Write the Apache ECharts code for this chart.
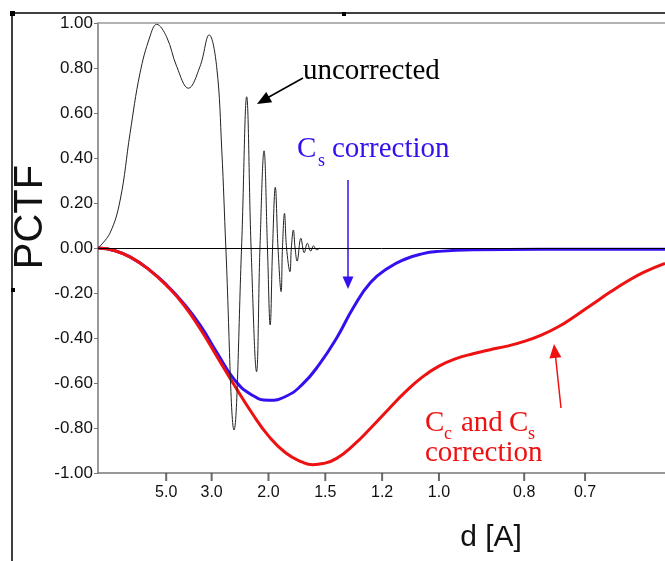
<!DOCTYPE html>
<html>
<head>
<meta charset="utf-8">
<script src="https://cdn.jsdelivr.net/npm/echarts@6/dist/echarts.min.js"></script>
<style>
  html, body { margin: 0; padding: 0; background: #fff; }
  #chart { width: 665px; height: 561px; }
</style>
</head>
<body>
<div id="chart"></div>
<script>
// x is spatial frequency 1/d, tick labels are shown as d
const dTicks = [5.0, 3.0, 2.0, 1.5, 1.2, 1.0, 0.8, 0.7];

// uncorrected (thin black)
const uncFreq = [0, 0.035, 0.065, 0.094, 0.123, 0.152, 0.172, 0.201, 0.231, 0.265, 0.299, 0.326, 0.348, 0.363, 0.375,
  0.399, 0.421, 0.436, 0.449, 0.465, 0.475, 0.487, 0.497, 0.505, 0.512, 0.520, 0.528, 0.537, 0.541, 0.547, 0.553,
  0.563, 0.567, 0.573, 0.578, 0.584, 0.595, 0.605, 0.614, 0.624, 0.632, 0.641, 0.651];
const uncPctf = [0, 0.066, 0.213, 0.51, 0.776, 0.938, 0.994, 0.939, 0.806, 0.71, 0.806, 0.947, 0.806, 0.436, 0,
  -0.809, 0, 0.672, 0, -0.55, 0, 0.432, 0, -0.342, 0, 0.27, 0, -0.194, 0, 0.154, 0,
  -0.105, 0, 0.08, 0, -0.058, 0.043, -0.021, 0.021, -0.014, 0.01, -0.008, 0];

// Cs correction (blue)
const csFreq = [0, 0.05, 0.1, 0.15, 0.2, 0.25, 0.3, 0.35, 0.4, 0.45, 0.5, 0.55, 0.6, 0.65, 0.7, 0.75, 0.8, 0.85,
  0.9, 0.95, 1.0, 1.1, 1.3, 1.663];
const csPctf = [0, -0.012, -0.045, -0.096, -0.162, -0.244, -0.344, -0.468, -0.585, -0.652, -0.677, -0.66, -0.605,
  -0.515, -0.40, -0.262, -0.152, -0.09, -0.05, -0.026, -0.015, -0.008, -0.006, -0.006];

// Cc and Cs correction (red)
const ccFreq = [0, 0.05, 0.1, 0.15, 0.2, 0.25, 0.3, 0.35, 0.4, 0.45, 0.5, 0.55, 0.6, 0.63, 0.66, 0.7, 0.75, 0.8,
  0.85, 0.9, 0.95, 1.0, 1.05, 1.1, 1.15, 1.2, 1.25, 1.3, 1.35, 1.4, 1.45, 1.5, 1.55, 1.6, 1.663];
const ccPctf = [0, -0.012, -0.045, -0.097, -0.165, -0.25, -0.36, -0.485, -0.61, -0.73, -0.835, -0.91, -0.952,
  -0.963, -0.958, -0.935, -0.875, -0.80, -0.72, -0.642, -0.575, -0.525, -0.492, -0.47, -0.452, -0.436, -0.415,
  -0.387, -0.35, -0.302, -0.25, -0.198, -0.15, -0.108, -0.068];

function zip(xs, ys) {
  return xs.map((x, i) => [x, ys[i]]);
}

const serif = "'Liberation Serif', 'Times New Roman', serif";
const sans = "'Liberation Sans', Arial, sans-serif";
const blue = "#3311ee";
const red = "#ee1111";

function txt(x, y, s, size, color) {
  return {
    type: "text",
    x: x,
    y: y,
    style: {
      text: s,
      font: size + "px " + serif,
      fill: color,
      align: "left",
      verticalAlign: "middle"
    }
  };
}

let myChart = echarts.init(document.getElementById("chart"), null, { renderer: "canvas" }),
  option;

option = {
  animation: false,
  backgroundColor: "#fff",
  grid: { left: 98, top: 23, right: 0, bottom: 88 },
  xAxis: [
    {
      type: "value",
      min: 0,
      max: 1.663,
      axisLine: { show: true, onZero: false, lineStyle: { color: "#777", width: 1.5 } },
      axisTick: { show: false },
      axisLabel: {
        customValues: dTicks.map((d) => 1 / d),
        formatter: (v) => (1 / v).toFixed(1),
        color: "#111",
        fontFamily: sans,
        fontSize: 16,
        margin: 12
      },
      splitLine: { show: false }
    },
    {
      type: "value",
      position: "top",
      min: 0,
      max: 1.663,
      axisLine: { show: true, onZero: false, lineStyle: { color: "#999", width: 1.5 } },
      axisTick: { show: false },
      axisLabel: { show: false },
      splitLine: { show: false }
    }
  ],
  yAxis: {
    type: "value",
    min: -1,
    max: 1,
    interval: 0.2,
    axisLine: { show: true, onZero: false, lineStyle: { color: "#777", width: 1.5 } },
    axisTick: { show: true, length: 4, lineStyle: { color: "#777" } },
    axisLabel: {
      formatter: (v) => v.toFixed(2),
      color: "#111",
      fontFamily: sans,
      fontSize: 17,
      margin: 5
    },
    splitLine: { show: false }
  },
  series: [
    {
      name: "Cs correction",
      type: "line",
      data: zip(csFreq, csPctf),
      showSymbol: false,
      smooth: 0.5,
      lineStyle: { color: blue, width: 3 }
    },
    {
      name: "Cc and Cs correction",
      type: "line",
      data: zip(ccFreq, ccPctf),
      showSymbol: false,
      smooth: 0.5,
      lineStyle: { color: red, width: 3 }
    },
    {
      name: "uncorrected",
      type: "line",
      data: zip(uncFreq, uncPctf),
      showSymbol: false,
      smooth: 0.4,
      lineStyle: { color: "#222", width: 1 },
      markLine: {
        silent: true,
        symbol: "none",
        label: { show: false },
        lineStyle: { color: "#000", width: 1, type: "solid" },
        data: [{ yAxis: 0 }]
      }
    },
    {
      // tick marks under the x axis at the d positions
      name: "ticks",
      type: "scatter",
      data: dTicks.map((d) => [1 / d, -1]),
      symbol: "rect",
      symbolSize: [2, 8],
      symbolOffset: [0, 4],
      itemStyle: { color: "#444" },
      clip: false,
      silent: true
    }
  ],
  graphic: [
    // outer frame bits
    { type: "line", shape: { x1: 12, y1: 13, x2: 665, y2: 13 }, style: { stroke: "#000", lineWidth: 1.5 } },
    { type: "line", shape: { x1: 12, y1: 13, x2: 12, y2: 561 }, style: { stroke: "#000", lineWidth: 1.5 } },
    { type: "rect", shape: { x: 10, y: 11, width: 5, height: 5 }, style: { fill: "#000" } },
    { type: "rect", shape: { x: 342, y: 12, width: 4, height: 4 }, style: { fill: "#000" } },
    { type: "rect", shape: { x: 11, y: 288, width: 4, height: 4 }, style: { fill: "#000" } },

    // axis names
    {
      type: "text", x: 31, y: 217, rotation: Math.PI / 2,
      style: { text: "PCTF", font: "40px " + sans, fill: "#111", align: "center", verticalAlign: "middle" }
    },
    {
      type: "text", x: 491, y: 538,
      style: { text: "d [A]", font: "30px " + sans, fill: "#111", align: "center", verticalAlign: "middle" }
    },

    // uncorrected label + arrow
    txt(303, 71, "uncorrected", 29, "#000"),
    { type: "line", shape: { x1: 303, y1: 78, x2: 268, y2: 97.5 }, style: { stroke: "#000", lineWidth: 1.5 } },
    { type: "polygon", shape: { points: [[257, 104], [272.2, 102.3], [266.2, 91.9]] }, style: { fill: "#000" } },

    // Cs correction label + arrow
    txt(297, 149, "C", 29, blue),
    txt(318, 161, "s", 18, blue),
    txt(332, 149, "correction", 29, blue),
    { type: "line", shape: { x1: 348, y1: 180, x2: 348, y2: 278 }, style: { stroke: blue, lineWidth: 1.5 } },
    { type: "polygon", shape: { points: [[348, 289], [342.5, 276.5], [353.5, 276.5]] }, style: { fill: blue } },

    // Cc and Cs correction label + arrow
    txt(425, 423, "C", 29, red),
    txt(444, 434, "c", 18, red),
    txt(461, 423, "and", 29, red),
    txt(509, 423, "C", 29, red),
    txt(528, 434, "s", 18, red),
    txt(425, 453, "correction", 29, red),
    { type: "line", shape: { x1: 561, y1: 408, x2: 555.5, y2: 356 }, style: { stroke: red, lineWidth: 1.5 } },
    { type: "polygon", shape: { points: [[554, 344], [561.4, 357.2], [549.4, 358.6]] }, style: { fill: red } }
  ]
};

if (option && typeof option === "object") myChart.setOption(option);
window.addEventListener("resize", function () {
  myChart.resize();
});
</script>
</body>
</html>
